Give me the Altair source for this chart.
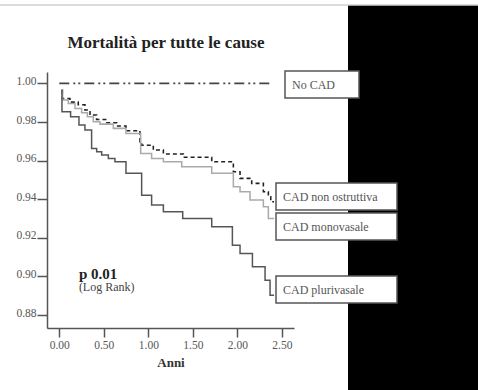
import altair as alt
import pandas as pd

# ---------------- data ----------------
series_names = ["No CAD", "CAD non ostruttiva", "CAD monovasale", "CAD plurivasale"]

nocad_x = [0.0, 2.40]
nocad_y = [1.0, 1.0]

nonost_x = [0.026, 0.034, 0.120, 0.213, 0.288, 0.345, 0.419, 0.532, 0.644, 0.749, 0.906, 0.925,
            1.056, 1.169, 1.393, 1.712, 1.955, 2.030, 2.161, 2.292, 2.348, 2.375, 2.412]
nonost_y = [0.9964, 0.9921, 0.9903, 0.9889, 0.9862, 0.9836, 0.9813, 0.9796, 0.9779, 0.9755, 0.9698, 0.9680,
            0.9655, 0.9634, 0.9617, 0.9594, 0.9542, 0.9508, 0.9482, 0.9439, 0.9413, 0.9387, 0.9387]

mono_x = [0.026, 0.037, 0.101, 0.176, 0.251, 0.315, 0.382, 0.457, 0.607, 0.749, 0.914,
          1.037, 1.169, 1.375, 1.712, 1.955, 2.030, 2.142, 2.292, 2.348, 2.412]
mono_y = [0.9964, 0.9914, 0.9896, 0.9870, 0.9848, 0.9827, 0.9801, 0.9789, 0.9767, 0.9741, 0.9637,
          0.9611, 0.9594, 0.9568, 0.9534, 0.9465, 0.9439, 0.9396, 0.9361, 0.9300, 0.9300]

pluri_x = [0.026, 0.030, 0.127, 0.221, 0.288, 0.363, 0.420, 0.476, 0.551, 0.625, 0.749,
           0.925, 1.037, 1.169, 1.386, 1.712, 1.944, 2.030, 2.169, 2.311, 2.367, 2.412]
pluri_y = [0.9965, 0.9853, 0.9827, 0.9784, 0.9758, 0.9663, 0.9646, 0.9629, 0.9611, 0.9594, 0.9534,
           0.9421, 0.9370, 0.9335, 0.9300, 0.9257, 0.9162, 0.9119, 0.9050, 0.8980, 0.8903, 0.8903]

x_ticks = [0.0, 0.5, 1.0, 1.5, 2.0, 2.5]
y_ticks = [0.88, 0.90, 0.92, 0.94, 0.96, 0.98, 1.00]

title_text = "Mortalità per tutte le cause"
x_title = "Anni"
p_text = "p 0.01"
p_sub = "(Log Rank)"
p_pos = (0.22, 0.9015)
p_sub_pos = (0.22, 0.8945)

# ---------------- build table ----------------
rows = []
for name, xs, ys in zip(series_names,
                        [nocad_x, nonost_x, mono_x, pluri_x],
                        [nocad_y, nonost_y, mono_y, pluri_y]):
    for i, (a, b) in enumerate(zip(xs, ys)):
        rows.append({"serie": name, "t": a, "s": b, "i": i})
df = pd.DataFrame(rows)

SERIF = "Liberation Serif"
W, H = 247, 256
PAD = {"left": 47, "top": 72, "right": 478 - 47 - W, "bottom": 390 - 72 - H}

xscale = alt.Scale(domain=[-0.138, 2.636], nice=False, zero=False)
yscale = alt.Scale(domain=[0.8733, 1.0059], nice=False, zero=False)

one = pd.DataFrame({"k": [0]})

# background decorations (outside plot area)
black_rect = alt.Chart(one).mark_rect(color="black", clip=False).encode(
    x=alt.value(301), x2=alt.value(431), y=alt.value(-67), y2=alt.value(318))
top_rule = alt.Chart(one).mark_rule(color="#d0d0d0", strokeWidth=1.5, clip=False).encode(
    x=alt.value(-47), x2=alt.value(431), y=alt.value(-67))

lines = alt.Chart(df).mark_line(interpolate="step-after", clip=False).encode(
    x=alt.X("t:Q", scale=xscale,
            axis=alt.Axis(values=x_ticks, format=".2f", title=x_title, grid=False,
                          domainColor="#555", domainWidth=1.5, tickColor="#555", tickWidth=1.5,
                          tickSize=9, labelFont=SERIF, labelFontSize=11.5, labelColor="#555",
                          labelPadding=2, titleFont=SERIF, titleFontSize=13, titleFontWeight="bold",
                          titleColor="#333", titlePadding=6)),
    y=alt.Y("s:Q", scale=yscale,
            axis=alt.Axis(values=y_ticks, format=".2f", title=None, grid=False,
                          domainColor="#555", domainWidth=1.5, tickColor="#555", tickWidth=1.5,
                          tickSize=10, labelFont=SERIF, labelFontSize=11.5, labelColor="#555",
                          labelPadding=1, labelBaseline="middle", labelOffset=-2)),
    color=alt.Color("serie:N", scale=alt.Scale(domain=series_names,
                                               range=["#444444", "#222222", "#aaaaaa", "#555555"]),
                    legend=None),
    strokeDash=alt.StrokeDash("serie:N", scale=alt.Scale(domain=series_names,
                                                         range=[[10, 4, 2, 3, 2, 4], [4, 3], [1, 0], [1, 0]]),
                              legend=None),
    size=alt.Size("serie:N", scale=alt.Scale(domain=series_names, range=[1.6, 1.5, 1.3, 1.6]),
                  legend=None),
    detail="serie:N",
    order="i:Q",
)

title = alt.Chart(one).mark_text(text=title_text, font=SERIF, fontSize=17, fontWeight="bold",
                                 color="#222", align="center", baseline="middle", clip=False).encode(
    x=alt.value(119), y=alt.value(-29))

ptxt = alt.Chart(pd.DataFrame({"t": [p_pos[0]], "s": [p_pos[1]]})).mark_text(
    text=p_text, font=SERIF, fontSize=15, fontWeight="bold", color="#222", align="left",
    baseline="middle").encode(x=alt.X("t:Q", scale=xscale), y=alt.Y("s:Q", scale=yscale))
psub = alt.Chart(pd.DataFrame({"t": [p_sub_pos[0]], "s": [p_sub_pos[1]]})).mark_text(
    text=p_sub, font=SERIF, fontSize=12, color="#444", align="left",
    baseline="middle").encode(x=alt.X("t:Q", scale=xscale), y=alt.Y("s:Q", scale=yscale))

# label boxes (pixel placement is styling)
box_geom = [(238, 312, -1, 26), (229, 350, 111, 138), (229, 350, 141, 168), (229, 350, 204, 231)]
box_layers = []
for name, (bx1, bx2, by1, by2) in zip(series_names, box_geom):
    box_layers.append(alt.Chart(one).mark_rect(fill="white", stroke="#555", strokeWidth=1.5,
                                               clip=False).encode(
        x=alt.value(bx1), x2=alt.value(bx2), y=alt.value(by1), y2=alt.value(by2)))
    box_layers.append(alt.Chart(one).mark_text(text=name, font=SERIF, fontSize=12, color="#555",
                                               align="left", baseline="middle", clip=False).encode(
        x=alt.value(bx1 + 7), y=alt.value((by1 + by2) / 2)))

chart = alt.layer(black_rect, top_rule, lines, ptxt, psub, title, *box_layers).properties(
    width=W, height=H, autosize="none", padding=PAD, background="white"
).configure_view(stroke=None)

chart.save("out.html", embed_options={"renderer": "svg", "actions": False})
